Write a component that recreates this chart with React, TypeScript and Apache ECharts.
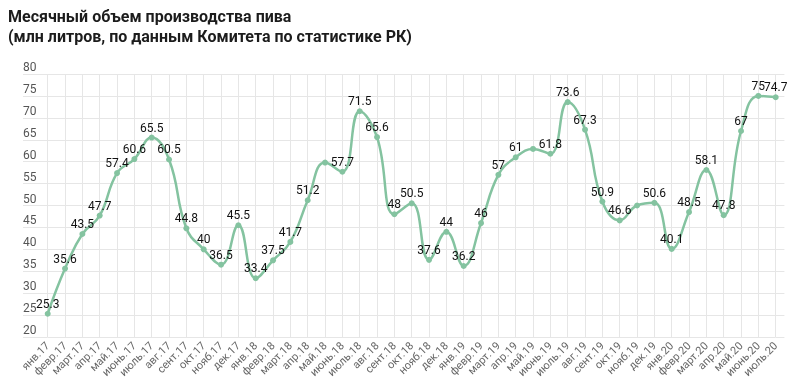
import React, { useEffect, useRef } from "react";
import * as echarts from "echarts";

const titleLines = [
  "Месячный объем производства пива",
  "(млн литров, по данным Комитета по статистике РК)",
];

const months = [
  "янв.17", "февр.17", "март.17", "апр.17", "май.17", "июнь.17", "июль.17", "авг.17", "сент.17", "окт.17", "нояб.17", "дек.17",
  "янв.18", "февр.18", "март.18", "апр.18", "май.18", "июнь.18", "июль.18", "авг.18", "сент.18", "окт.18", "нояб.18", "дек.18",
  "янв.19", "февр.19", "март.19", "апр.19", "май.19", "июнь.19", "июль.19", "авг.19", "сент.19", "окт.19", "нояб.19", "дек.19",
  "янв.20", "февр.20", "март.20", "апр.20", "май.20", "июнь.20", "июль.20",
];

const volumes = [
  25.3, 35.6, 43.5, 47.7, 57.4, 60.6, 65.5, 60.5, 44.8, 40, 36.5, 45.5,
  33.4, 37.5, 41.7, 51.2, 59.8, 57.7, 71.5, 65.6, 48, 50.5, 37.6, 44,
  36.2, 46, 57, 61, 62.9, 61.8, 73.6, 67.3, 50.9, 46.6, 50.0, 50.6,
  40.1, 48.5, 58.1, 47.8, 67, 75, 74.7,
];

// months whose value label is not shown in the reference
const hiddenLabels = ["май.18", "май.19", "нояб.19"];

const yMin = 20;
const yMax = 80;
const yStep = 5;

export default function App() {
  const ref = useRef<HTMLDivElement>(null);

  useEffect(() => {
    if (!ref.current) return;
    const chart = echarts.init(ref.current, null, { renderer: "svg" });
    const gridColor = "#e6e6e6";
    const lineColor = "#84c3a0";
    chart.setOption({
      animation: false,
      textStyle: { fontFamily: "Roboto" },
      graphic: [
        {
          type: "text",
          left: 8,
          top: 7,
          style: {
            text: titleLines.join("\n"),
            font: "bold 16px Roboto",
            lineHeight: 19.5,
            fill: "#1c1c1c",
          },
        },
      ],
      grid: { left: 47.7, right: 24.3, top: 74, bottom: 49 },
      xAxis: {
        type: "category",
        data: months,
        boundaryGap: false,
        axisLine: { show: false },
        axisTick: { show: false },
        splitLine: { show: true, lineStyle: { color: gridColor, width: 1 } },
        axisLabel: {
          interval: 0,
          rotate: 45,
          margin: 7,
          fontSize: 11,
          color: "#666",
          fontFamily: "Roboto",
        },
      },
      yAxis: [
        {
          type: "value",
          min: yMin,
          max: yMax,
          interval: yStep,
          axisLine: { show: false },
          axisTick: { show: true, length: 24.7, lineStyle: { color: gridColor, width: 1 } },
          splitLine: { show: true, lineStyle: { color: gridColor, width: 1 } },
          axisLabel: {
            align: "left",
            verticalAlign: "bottom",
            margin: 24.7,
            fontSize: 12,
            color: "#555",
            fontFamily: "Roboto",
            padding: [0, 0, 1, 0],
          },
        },
        {
          type: "value",
          position: "right",
          min: yMin,
          max: yMax,
          interval: yStep,
          axisLine: { show: false },
          axisTick: { show: true, length: 8.7, lineStyle: { color: gridColor, width: 1 } },
          splitLine: { show: false },
          axisLabel: { show: false },
        },
      ],
      series: [
        {
          type: "line",
          data: volumes.map((v, i) => ({
            value: v,
            label: { show: !hiddenLabels.includes(months[i]) },
          })),
          smooth: 0.45,
          symbol: "circle",
          symbolSize: 6,
          lineStyle: { color: lineColor, width: 2.5 },
          itemStyle: { color: lineColor },
          label: {
            show: true,
            position: "top",
            distance: 1,
            fontSize: 12,
            color: "#111",
            fontFamily: "Roboto",
          },
        },
      ],
    });
    return () => chart.dispose();
  }, []);

  return (
    <div
      ref={ref}
      style={{ position: "fixed", left: 0, top: 0, width: 800, height: 386 }}
    />
  );
}
